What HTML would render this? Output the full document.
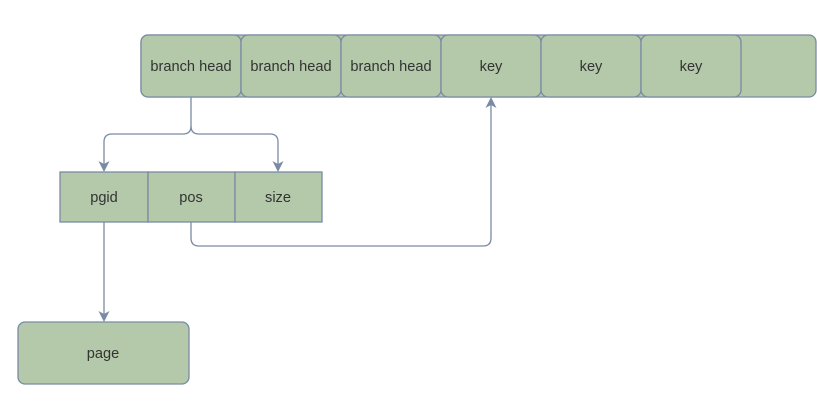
<!DOCTYPE html>
<html><head><style>body{margin:0;background:#fff}</style></head><body>
<svg width="817" height="405" xmlns="http://www.w3.org/2000/svg" font-family="Liberation Sans, sans-serif" font-size="14.6" fill="#333">
<g stroke="#7a8aa3" stroke-width="1.3" fill="#b3c9a9">
<rect x="141" y="35" width="675" height="62" rx="7"/>
<rect x="141" y="35" width="100" height="62" rx="7"/>
<rect x="241" y="35" width="100" height="62" rx="7"/>
<rect x="341" y="35" width="100" height="62" rx="7"/>
<rect x="441" y="35" width="100" height="62" rx="7"/>
<rect x="541" y="35" width="100" height="62" rx="7"/>
<rect x="641" y="35" width="100" height="62" rx="7"/>
<rect x="60" y="172" width="88" height="50"/>
<rect x="148" y="172" width="87" height="50"/>
<rect x="235" y="172" width="87" height="50"/>
<rect x="18" y="322" width="171" height="62" rx="7"/>
</g>
<g fill="none" stroke="#7a8aa3" stroke-width="1.3">
<path d="M191,97 V126 Q191,134 183,134 H112 Q104,134 104,142 V164"/>
<path d="M191,126 Q191,134 199,134 H270 Q278,134 278,142 V164"/>
<path d="M104,222 V314"/>
<path d="M191,222 V238 Q191,246 199,246 H483 Q491,246 491,238 V105"/>
</g>
<g fill="#7a8aa3">
<path d="M98.5,161 L104,172 L109.5,161 L104,164Z"/>
<path d="M272.5,161 L278,172 L283.5,161 L278,164Z"/>
<path d="M98.5,311 L104,322 L109.5,311 L104,314Z"/>
<path d="M485.5,108 L491,97 L496.5,108 L491,105Z"/>
</g>
<g text-anchor="middle">
<text x="191" y="71">branch head</text>
<text x="291" y="71">branch head</text>
<text x="391" y="71">branch head</text>
<text x="491" y="71">key</text>
<text x="591" y="71">key</text>
<text x="691" y="71">key</text>
<text x="104" y="202">pgid</text>
<text x="191" y="202">pos</text>
<text x="278" y="202">size</text>
<text x="103" y="358">page</text>
</g>
</svg>
</body></html>
